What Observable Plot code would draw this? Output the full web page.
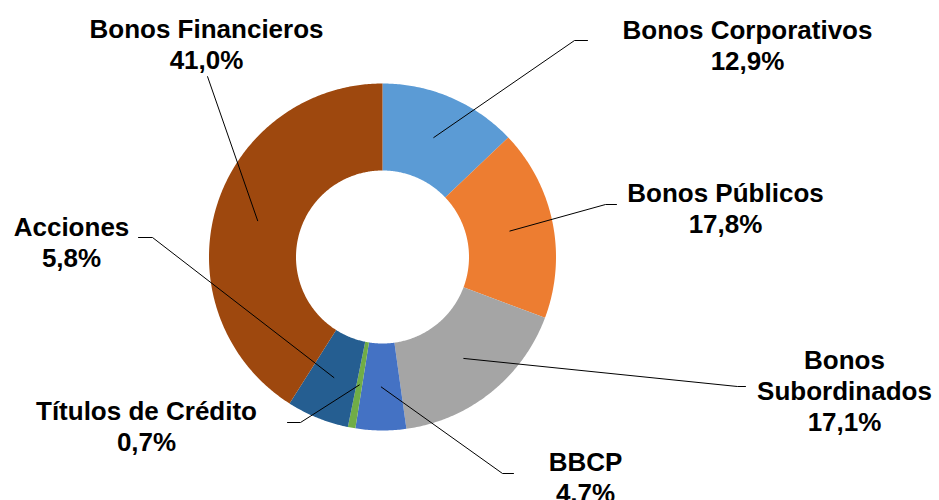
<!DOCTYPE html>
<html>
<head>
<meta charset="utf-8">
<script src="https://cdn.jsdelivr.net/npm/d3@7"></script>
<script src="https://cdn.jsdelivr.net/npm/@observablehq/plot@0.6"></script>
<style>
  html, body { margin: 0; padding: 0; background: #fff; overflow: hidden; }
  #chart svg { display: block; }
</style>
</head>
<body>
<div id="chart"></div>
<script>
// ---- data ----
const categories = ["Bonos Corporativos", "Bonos Públicos", "Bonos Subordinados", "BBCP", "Títulos de Crédito", "Acciones", "Bonos Financieros"];
const values = [12.9, 17.8, 17.1, 4.7, 0.7, 5.8, 41.0];
const colors = ["#5B9BD5", "#ED7D31", "#A5A5A5", "#4472C4", "#70AD47", "#255E91", "#9E480E"];

// ---- layout (pixel offsets from donut centre) ----
const outerR = 173.5, innerR = 86.5;
const labelLayout = [
  {tx: 365, base: -221.5, ex: 192, ey: -216.5, hx: 205, hy: -216.5, wrap: false},
  {tx: 343, base: -58.5, ex: 223, ey: -52.5, hx: 234, hy: -52.5, wrap: false},
  {tx: 462, base: 108.5, ex: 355, ey: 129.5, hx: 363, hy: 129.5, wrap: true},
  {tx: 203, base: 210.5, ex: 120, ey: 216.5, hx: 131, hy: 216.5, wrap: false},
  {tx: -236, base: 159.5, ex: -82, ey: 165.5, hx: -95, hy: 165.5, wrap: false},
  {tx: -311, base: -24.5, ex: -230, ey: -19.5, hx: -244, hy: -19.5, wrap: false},
  {tx: -176, base: -222.5, ex: -175, ey: -180.5, hx: -175, hy: -180.5, wrap: false}
];
const fontSize = 26;

// ---- build slices ----
const total = d3.sum(values);
const pie = d3.pie().sort(null).value(d => d)(values)
  .map(a => ({...a, startAngle: a.startAngle, endAngle: a.endAngle}));
// d3.pie starts at 0 (top) going clockwise — matches the reference
const polar = (r, a) => [r * Math.sin(a), -r * Math.cos(a)];

const slicePts = [];
pie.forEach((p, i) => {
  const n = Math.max(4, Math.ceil((p.endAngle - p.startAngle) / 0.01));
  for (let k = 0; k <= n; k++) {
    const a = p.startAngle + (p.endAngle - p.startAngle) * k / n;
    const [x, y] = polar(outerR, a);
    slicePts.push({cat: categories[i], x, y});
  }
  for (let k = n; k >= 0; k--) {
    const a = p.startAngle + (p.endAngle - p.startAngle) * k / n;
    const [x, y] = polar(innerR, a);
    slicePts.push({cat: categories[i], x, y});
  }
});

const leaderPts = [];
const labels = [];
pie.forEach((p, i) => {
  const L = labelLayout[i];
  const mid = (p.startAngle + p.endAngle) / 2;
  const [cx, cy] = polar((outerR + innerR) / 2, mid);
  leaderPts.push({cat: categories[i], x: cx, y: cy});
  leaderPts.push({cat: categories[i], x: L.ex, y: L.ey});
  leaderPts.push({cat: categories[i], x: L.hx, y: L.hy});
  const name = L.wrap ? categories[i].replace(" ", "\n") : categories[i];
  const pct = (values[i] / total * 100).toFixed(1).replace(".", ",") + "%";
  labels.push({x: L.tx, y: L.base - 0.71 * fontSize, text: name + "\n" + pct});
});

const W = 939, H = 500, CX = 382, CY = 256.5;

const chart = Plot.plot({
  width: W,
  height: H,
  margin: 0,
  x: {domain: [-CX, W - CX], range: [0, W], axis: null},
  y: {domain: [-CY, H - CY], range: [0, H], axis: null},
  marks: [
    ...categories.map((c, i) => Plot.line(slicePts.filter(d => d.cat === c), {
      x: "x", y: "y", fill: colors[i], stroke: "none", curve: "linear-closed"
    })),
    Plot.line(leaderPts, {x: "x", y: "y", z: "cat", stroke: "#000", strokeWidth: 1}),
    Plot.text(labels, {
      x: "x", y: "y", text: "text",
      fontSize: fontSize, fontWeight: "bold",
      fontFamily: "'Liberation Sans', Arial, sans-serif",
      fill: "#000", lineAnchor: "top", lineHeight: 1.185, textAnchor: "middle"
    })
  ]
});
document.getElementById("chart").appendChild(chart);
</script>
</body>
</html>
